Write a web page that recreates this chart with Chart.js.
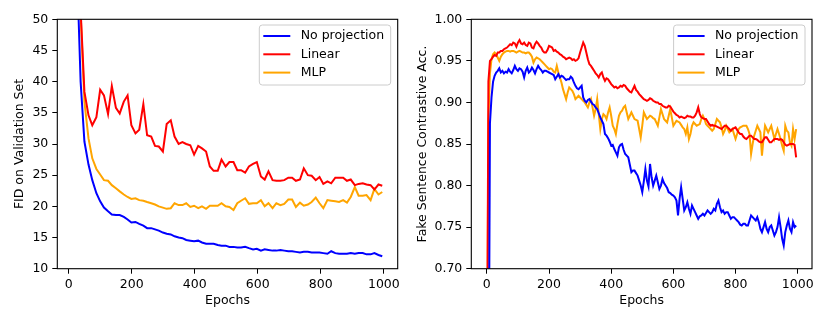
<!DOCTYPE html>
<html>
<head>
<meta charset="utf-8">
<script src="https://cdn.jsdelivr.net/npm/chart.js@4.4.0/dist/chart.umd.min.js"></script>
<style>
  html, body { margin: 0; padding: 0; background: #fff; }
  #wrap { position: relative; width: 830px; height: 323px; }
  canvas { position: absolute; top: 0; }
</style>
</head>
<body>
<div id="wrap">
  <canvas id="fidChart" width="410" height="323" style="left:0"></canvas>
  <canvas id="accChart" width="420" height="323" style="left:410px"></canvas>
</div>
<script>
// ---- data ----
const seriesNames = ['No projection', 'Linear', 'MLP'];

// left panel: FID, evaluated roughly every 12.4 epochs
const fidEpochs = [13, 25, 38, 50, 63, 75, 88, 100, 112, 125,
  137, 150, 162, 175, 187, 199, 212, 224, 237, 249,
  262, 274, 286, 299, 311, 324, 336, 349, 361, 373,
  386, 398, 411, 423, 436, 448, 460, 473, 485, 498,
  510, 523, 535, 547, 560, 572, 585, 597, 610, 622,
  634, 647, 659, 672, 684, 697, 709, 721, 734, 746,
  759, 771, 784, 796, 808, 821, 833, 846, 858, 871,
  883, 895, 908, 920, 933, 945, 958, 970, 983, 995];
const fidNoProj = [120, 60.5, 40, 30.4, 26.7, 24.2, 22.1, 20.8, 19.8, 19.2,
  18.7, 18.6, 18.6, 18.3, 17.9, 17.4, 17.5, 17.2, 16.9, 16.5,
  16.5, 16.3, 16.1, 15.8, 15.6, 15.5, 15.2, 15.0, 14.9, 14.6,
  14.5, 14.4, 14.5, 14.2, 14.0, 14.0, 14.0, 13.8, 13.7, 13.7,
  13.5, 13.5, 13.4, 13.4, 13.5, 13.3, 13.1, 13.2, 12.9, 13.1,
  13.0, 12.9, 12.9, 13.0, 12.9, 12.8, 12.8, 12.7, 12.6, 12.7,
  12.7, 12.6, 12.6, 12.6, 12.5, 12.4, 12.8, 12.5, 12.4, 12.4,
  12.4, 12.5, 12.4, 12.5, 12.5, 12.3, 12.3, 12.5, 12.2, 12.0];
const fidLinear = [130, 72, 51.5, 38.4, 34.6, 33.0, 34.3, 38.7, 37.8, 34.8,
  39.3, 35.8, 34.9, 36.8, 37.8, 33.0, 31.7, 32.3, 36.4, 31.4,
  31.2, 29.7, 29.6, 28.8, 33.2, 33.8, 31.2, 30.0, 30.3, 30.0,
  29.8, 28.3, 29.7, 29.3, 28.8, 26.4, 25.7, 25.7, 27.5, 26.4,
  27.1, 27.1, 25.8, 25.8, 25.4, 26.4, 26.8, 27.1, 24.8, 24.3,
  25.6, 24.2, 24.1, 24.1, 24.2, 24.6, 24.6, 24.1, 24.3, 26.1,
  25.0, 24.9, 24.2, 24.7, 23.6, 24.0, 23.7, 24.6, 24.6, 24.6,
  24.1, 24.3, 23.4, 23.6, 23.7, 23.5, 23.4, 22.7, 23.5, 23.3];
const fidMLP = [125, 75, 51, 36.8, 30.9, 27.7, 26.0, 25.1, 24.2, 24.1,
  23.4, 22.9, 22.4, 21.9, 21.5, 21.2, 21.3, 21.0, 20.9, 20.7,
  20.5, 20.3, 20.0, 19.8, 19.6, 19.7, 20.5, 20.2, 20.2, 20.5,
  19.9, 20.1, 19.7, 20.0, 19.6, 20.1, 20.1, 20.1, 20.5, 20.0,
  19.9, 19.4, 20.5, 20.9, 21.3, 20.4, 20.5, 20.5, 21.0, 20.0,
  20.5, 19.7, 20.5, 20.2, 20.4, 21.1, 21.1, 19.9, 20.6, 20.1,
  20.3, 20.7, 21.4, 20.5, 19.7, 21.0, 20.9, 20.8, 20.7, 21.0,
  20.6, 21.5, 23.1, 21.7, 21.7, 21.8, 21.0, 22.8, 21.9, 22.3];
const fidTicksX = [0, 200, 400, 600, 800, 1000];
const fidTicksY = [10, 15, 20, 25, 30, 35, 40, 45, 50];

// right panel: contrastive accuracy, every 5 epochs (0 .. 995)
const accEpochs = Array.from({ length: 200 }, (_, i) => i * 5);
const accNoProj = [0.40, 0.45, 0.875, 0.906, 0.925, 0.932, 0.936, 0.938, 0.941, 0.936,
  0.938, 0.935, 0.937, 0.936, 0.940, 0.937, 0.935, 0.939, 0.944, 0.940,
  0.938, 0.941, 0.940, 0.937, 0.930, 0.938, 0.942, 0.936, 0.938, 0.942,
  0.939, 0.935, 0.940, 0.944, 0.941, 0.939, 0.936, 0.938, 0.938, 0.937,
  0.936, 0.935, 0.934, 0.933, 0.928, 0.931, 0.934, 0.930, 0.932, 0.931,
  0.929, 0.927, 0.928, 0.928, 0.931, 0.929, 0.924, 0.920, 0.917, 0.916,
  0.918, 0.920, 0.906, 0.902, 0.900, 0.903, 0.904, 0.901, 0.898, 0.897,
  0.894, 0.892, 0.887, 0.882, 0.878, 0.874, 0.862, 0.860, 0.857, 0.853,
  0.848, 0.849, 0.844, 0.840, 0.836, 0.846, 0.849, 0.850, 0.843, 0.838,
  0.836, 0.834, 0.825, 0.816, 0.818, 0.818, 0.815, 0.812, 0.806, 0.800,
  0.792, 0.805, 0.820, 0.806, 0.799, 0.826, 0.810, 0.800, 0.806, 0.812,
  0.804, 0.796, 0.800, 0.808, 0.803, 0.800, 0.797, 0.792, 0.791, 0.789,
  0.788, 0.786, 0.782, 0.764, 0.784, 0.798, 0.784, 0.770, 0.774, 0.780,
  0.772, 0.766, 0.776, 0.772, 0.768, 0.764, 0.760, 0.763, 0.764, 0.766,
  0.764, 0.767, 0.770, 0.768, 0.766, 0.768, 0.772, 0.770, 0.778, 0.782,
  0.774, 0.768, 0.770, 0.766, 0.768, 0.768, 0.764, 0.760, 0.762, 0.762,
  0.760, 0.758, 0.756, 0.753, 0.752, 0.754, 0.754, 0.752, 0.752, 0.758,
  0.764, 0.762, 0.760, 0.758, 0.762, 0.756, 0.748, 0.744, 0.750, 0.756,
  0.748, 0.744, 0.750, 0.752, 0.746, 0.740, 0.744, 0.750, 0.762, 0.750,
  0.736, 0.728, 0.744, 0.752, 0.758, 0.748, 0.744, 0.756, 0.750, 0.752];
const accLinear = [0.50, 0.925, 0.950, 0.952, 0.955, 0.957, 0.956, 0.960, 0.960, 0.962,
  0.962, 0.964, 0.965, 0.966, 0.968, 0.970, 0.969, 0.972, 0.971, 0.967,
  0.972, 0.975, 0.971, 0.970, 0.972, 0.969, 0.968, 0.972, 0.971, 0.966,
  0.965, 0.970, 0.973, 0.971, 0.968, 0.966, 0.962, 0.960, 0.960, 0.963,
  0.968, 0.967, 0.966, 0.962, 0.963, 0.961, 0.960, 0.958, 0.957, 0.955,
  0.954, 0.952, 0.953, 0.954, 0.953, 0.951, 0.952, 0.950, 0.951, 0.953,
  0.960, 0.966, 0.972, 0.968, 0.960, 0.952, 0.946, 0.944, 0.941, 0.938,
  0.935, 0.933, 0.930, 0.934, 0.936, 0.930, 0.926, 0.929, 0.928, 0.925,
  0.922, 0.920, 0.918, 0.919, 0.917, 0.918, 0.920, 0.919, 0.921, 0.920,
  0.917, 0.915, 0.913, 0.912, 0.916, 0.920, 0.915, 0.913, 0.910, 0.908,
  0.906, 0.904, 0.903, 0.902, 0.903, 0.905, 0.904, 0.902, 0.901, 0.900,
  0.900, 0.898, 0.898, 0.896, 0.895, 0.894, 0.894, 0.896, 0.895, 0.892,
  0.889, 0.887, 0.885, 0.884, 0.882, 0.883, 0.882, 0.881, 0.882, 0.884,
  0.883, 0.883, 0.882, 0.882, 0.884, 0.888, 0.894, 0.886, 0.882, 0.881,
  0.880, 0.880, 0.877, 0.874, 0.872, 0.873, 0.872, 0.872, 0.871, 0.870,
  0.869, 0.868, 0.870, 0.872, 0.872, 0.870, 0.868, 0.866, 0.868, 0.869,
  0.870, 0.867, 0.864, 0.862, 0.862, 0.859, 0.857, 0.856, 0.858, 0.860,
  0.860, 0.858, 0.856, 0.856, 0.855, 0.853, 0.852, 0.852, 0.855, 0.858,
  0.858, 0.855, 0.852, 0.852, 0.854, 0.856, 0.856, 0.856, 0.855, 0.856,
  0.855, 0.852, 0.849, 0.848, 0.849, 0.850, 0.850, 0.850, 0.849, 0.834];
const accMLP = [0.50, 0.88, 0.935, 0.952, 0.958, 0.960, 0.958, 0.954, 0.950, 0.955,
  0.958, 0.960, 0.961, 0.962, 0.962, 0.961, 0.962, 0.962, 0.961, 0.960,
  0.961, 0.962, 0.961, 0.960, 0.960, 0.959, 0.960, 0.960, 0.958, 0.955,
  0.948, 0.952, 0.954, 0.953, 0.952, 0.950, 0.948, 0.946, 0.944, 0.942,
  0.940, 0.941, 0.940, 0.937, 0.936, 0.944, 0.936, 0.930, 0.924, 0.916,
  0.910, 0.904, 0.912, 0.918, 0.916, 0.914, 0.910, 0.904, 0.906, 0.908,
  0.906, 0.904, 0.902, 0.900, 0.897, 0.894, 0.900, 0.904, 0.894, 0.884,
  0.892, 0.904, 0.886, 0.868, 0.880, 0.886, 0.884, 0.880, 0.888, 0.894,
  0.884, 0.872, 0.868, 0.862, 0.874, 0.884, 0.888, 0.890, 0.894, 0.896,
  0.888, 0.880, 0.884, 0.888, 0.884, 0.880, 0.879, 0.878, 0.868, 0.858,
  0.872, 0.888, 0.884, 0.880, 0.882, 0.884, 0.883, 0.881, 0.880, 0.876,
  0.872, 0.882, 0.892, 0.886, 0.880, 0.878, 0.876, 0.884, 0.892, 0.882,
  0.872, 0.875, 0.878, 0.877, 0.876, 0.873, 0.870, 0.868, 0.862, 0.870,
  0.856, 0.862, 0.872, 0.876, 0.874, 0.872, 0.873, 0.874, 0.880, 0.884,
  0.880, 0.874, 0.872, 0.870, 0.868, 0.866, 0.868, 0.874, 0.880, 0.878,
  0.876, 0.870, 0.862, 0.866, 0.872, 0.868, 0.864, 0.866, 0.868, 0.862,
  0.856, 0.862, 0.868, 0.870, 0.871, 0.872, 0.872, 0.872, 0.868, 0.862,
  0.838, 0.850, 0.860, 0.866, 0.872, 0.868, 0.864, 0.836, 0.856, 0.872,
  0.868, 0.864, 0.868, 0.872, 0.864, 0.856, 0.862, 0.868, 0.862, 0.856,
  0.848, 0.842, 0.872, 0.866, 0.864, 0.852, 0.848, 0.868, 0.856, 0.868];
const accTicksX = [0, 200, 400, 600, 800, 1000];
const accTicksY = [0.70, 0.75, 0.80, 0.85, 0.90, 0.95, 1.00];

// ---- styling ----
const colors = ['#0000ff', '#ff0000', '#ffa500'];
const FONT = { family: 'DejaVu Sans', size: 12.5 };
Chart.defaults.font.family = FONT.family;
Chart.defaults.font.size = FONT.size;
Chart.defaults.color = '#000';

function toPoints(xs, ys) {
  return xs.map((x, i) => ({ x: x, y: ys[i] }));
}

// axes frame + matplotlib-like legend in the upper right
const frameLegend = {
  id: 'frameLegend',
  afterDraw(chart) {
    const ctx = chart.ctx, a = chart.chartArea;
    ctx.save();
    ctx.strokeStyle = '#000';
    ctx.lineWidth = 1.1;
    ctx.strokeRect(a.left, a.top, a.right - a.left, a.bottom - a.top);

    const bw = 131.4, bh = 60;
    const bx = a.right - 7 - bw, by = a.top + 5.7;
    ctx.beginPath();
    ctx.roundRect(bx, by, bw, bh, 3);
    ctx.fillStyle = 'rgba(255,255,255,0.8)';
    ctx.fill();
    ctx.strokeStyle = '#cccccc';
    ctx.lineWidth = 1;
    ctx.stroke();

    ctx.font = FONT.size + 'px ' + FONT.family;
    ctx.textBaseline = 'middle';
    chart.data.datasets.forEach((ds, i) => {
      const y = by + 11 + i * 18.3;
      ctx.beginPath();
      ctx.moveTo(bx + 4, y);
      ctx.lineTo(bx + 31, y);
      ctx.strokeStyle = ds.borderColor;
      ctx.lineWidth = 2;
      ctx.stroke();
      ctx.fillStyle = '#000';
      ctx.fillText(ds.label, bx + 41.4, y);
    });
    ctx.restore();
  }
};

function makeChart(id, xs, seriesList, cfg) {
  const datasets = seriesList.map((ys, i) => ({
    label: seriesNames[i],
    data: toPoints(xs, ys),
    borderColor: colors[i],
    backgroundColor: colors[i],
    borderWidth: 2,
    pointRadius: 0,
    tension: 0,
    fill: false
  }));
  return new Chart(document.getElementById(id), {
    type: 'line',
    data: { datasets: datasets },
    plugins: [frameLegend],
    options: {
      responsive: false,
      animation: false,
      devicePixelRatio: 1,
      layout: { padding: cfg.padding },
      plugins: { legend: { display: false }, tooltip: { enabled: false } },
      scales: {
        x: {
          type: 'linear',
          min: cfg.xMin, max: cfg.xMax,
          afterBuildTicks: s => { s.ticks = cfg.xTicks.map(v => ({ value: v })); },
          afterFit: s => { s.height = cfg.xHeight; },
          border: { display: false },
          grid: { drawOnChartArea: false, drawTicks: true, tickLength: 5, tickColor: '#000', lineWidth: 1 },
          ticks: { padding: 4, maxRotation: 0, autoSkip: false, callback: v => String(v) },
          title: { display: true, text: 'Epochs', padding: { top: 4, bottom: 4 } }
        },
        y: {
          type: 'linear',
          min: cfg.yMin, max: cfg.yMax,
          afterBuildTicks: s => { s.ticks = cfg.yTicks.map(v => ({ value: v })); },
          afterFit: s => { s.width = cfg.yWidth; },
          border: { display: false },
          grid: { drawOnChartArea: false, drawTicks: true, tickLength: 5, tickColor: '#000', lineWidth: 1 },
          ticks: { padding: 4, callback: cfg.yFormat },
          title: { display: true, text: cfg.yTitle, padding: { top: 4, bottom: 4 } }
        }
      }
    }
  });
}

makeChart('fidChart', fidEpochs, [fidNoProj, fidLinear, fidMLP], {
  padding: { left: 8.5, right: 12.3, top: 19.3, bottom: 10.5 },
  xMin: -36, xMax: 1044, xTicks: fidTicksX, xHeight: 43.8,
  yMin: 10, yMax: 50, yTicks: fidTicksY, yWidth: 48.8,
  yFormat: v => String(v),
  yTitle: 'FID on Validation Set'
});

makeChart('accChart', accEpochs, [accNoProj, accLinear, accMLP], {
  padding: { left: 1.2, right: 18, top: 19.3, bottom: 10.5 },
  xMin: -50, xMax: 1046, xTicks: accTicksX, xHeight: 43.8,
  yMin: 0.70, yMax: 1.00, yTicks: accTicksY, yWidth: 60.1,
  yFormat: v => Number(v).toFixed(2),
  yTitle: 'Fake Sentence Contrastive Acc.'
});
</script>
</body>
</html>
